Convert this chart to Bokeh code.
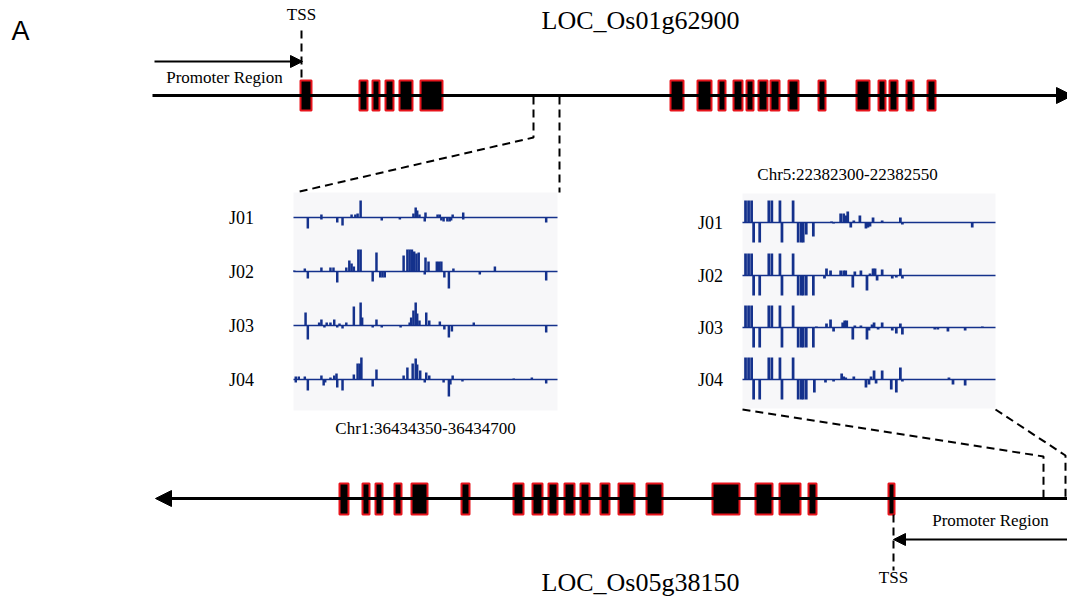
from bokeh.plotting import figure
from bokeh.models import Arrow, NormalHead
from bokeh.core.properties import value
from bokeh.embed import file_html
from bokeh.resources import INLINE

# ---------------- data ----------------
# gene structures (diagram units along the drawn gene line)
top_exon_start = [300, 359, 372, 385, 399, 420, 670, 697, 718, 733, 746, 758, 770, 788, 818, 856, 878, 889, 906, 927]
top_exon_end   = [311, 367, 379, 393, 412, 442, 683, 711, 725, 742, 753, 767, 779, 798, 825, 869, 885, 897, 913, 935]
bot_exon_start = [339, 362, 375, 394, 411, 461, 513, 532, 548, 564, 580, 600, 618, 646, 712, 755, 779, 808, 888]
bot_exon_end   = [348, 369, 382, 401, 427, 469, 523, 542, 557, 574, 589, 609, 634, 662, 739, 772, 800, 816, 894]

samples = ["J01", "J02", "J03", "J04"]

# left region Chr1:36434350-36434700 ; (offset bp, signal) plus strand up, minus strand down
L_J01_plus  = [(37,3),(77,3),(82,3),(85,4),(89,17),(159,4),(162,10),(164,7),(167,3),(175,5),(191,3),(194,3),(211,3),(225,5)]
L_J01_minus = [(19,11),(37,2),(58,5),(65,8),(117,3),(141,2),(174,4),(196,3),(199,4),(204,4),(207,4),(209,3),(225,2),(335,5)]
L_J02_plus  = [(1,1),(15,3),(37,4),(49,4),(53,4),(70,4),(74,11),(77,8),(80,5),(86,22),(89,22),(110,19),(146,16),
               (151,22),(154,22),(157,22),(160,20),(163,18),(166,19),(175,14),(179,10),(190,10),(193,10),(196,10),(212,3),(267,5)]
L_J02_minus = [(19,7),(58,11),(105,10),(115,6),(118,6),(121,6),(174,3),(200,6),(206,17),(247,3),(335,9)]
L_J03_plus  = [(16,13),(34,3),(37,6),(44,3),(49,3),(54,6),(61,2),(70,3),(80,19),(89,23),(91,8),(110,6),(154,3),(156,8),
               (159,15),(162,23),(164,12),(167,5),(176,13),(180,5),(194,4),(239,3)]
L_J03_minus = [(19,14),(41,2),(58,2),(65,3),(105,2),(117,2),(142,2),(200,4),(206,12),(210,6),(335,7)]
L_J04_plus  = [(3,3),(7,3),(15,3),(37,4),(49,2),(54,4),(57,6),(80,5),(85,16),(88,16),(90,22),(110,10),(146,4),(151,12),
               (158,16),(162,21),(164,15),(168,9),(176,7),(180,4),(211,4),(292,1),(316,2)]
L_J04_minus = [(3,3),(19,11),(40,6),(42,3),(58,8),(65,11),(105,7),(174,3),(199,3),(206,17),(208,5),(224,2),(335,4)]

# right region Chr5:22382300-22382550
R_tall_plus  = [(3,22),(6,22),(9,22),(26,22),(29,22),(37,22),(50,22)]
R_tall_minus = [(11,20),(17,20),(39,20),(55,20),(58,20),(60,20)]
R_J01_plus  = [(88,1),(97,9),(100,9),(102,7),(104,11),(110,2),(116,7),(129,5),(138,2),(156,5)]
R_J01_minus = [(63,12),(70,14),(90,1),(107,5),(122,6),(124,5),(126,4),(158,2),(227,5)]
R_J02_plus  = [(83,7),(87,5),(97,5),(100,5),(102,5),(111,4),(117,5),(126,2),(129,7),(131,7),(138,6),(156,7)]
R_J02_minus = [(63,20),(70,20),(81,3),(109,12),(123,15),(133,5),(148,3),(152,2),(158,3)]
R_J03_plus  = [(73,1),(83,4),(87,8),(99,5),(101,7),(103,7),(111,2),(117,2),(128,3),(130,5),(138,5),(156,4),(237,1)]
R_J03_minus = [(63,20),(70,20),(90,4),(109,12),(123,12),(125,3),(134,2),(148,3),(152,6),(158,7),(190,2),(193,2),(203,4),(220,3)]
R_J04_plus  = [(98,6),(100,3),(102,2),(110,3),(127,3),(130,9),(138,9),(156,12),(204,2)]
R_J04_minus = [(63,20),(71,13),(82,3),(90,2),(122,8),(125,5),(132,4),(147,10),(152,13),(158,2),(208,5),(220,6)]

left_plus  = [L_J01_plus, L_J02_plus, L_J03_plus, L_J04_plus]
left_minus = [L_J01_minus, L_J02_minus, L_J03_minus, L_J04_minus]
right_plus  = [R_tall_plus + t for t in [R_J01_plus, R_J02_plus, R_J03_plus, R_J04_plus]]
right_minus = [R_tall_minus + t for t in [R_J01_minus, R_J02_minus, R_J03_minus, R_J04_minus]]

left_region = "Chr1:36434350-36434700"
right_region = "Chr5:22382300-22382550"
left_len, right_len = 350, 250

# ---------------- figure ----------------
W, H = 1067, 600
p = figure(width=W, height=H, x_range=(0, W), y_range=(H, 0), output_backend="svg",
           toolbar_location=None, min_border=0)
p.axis.visible = False
p.grid.visible = False
p.outline_line_color = None
p.background_fill_color = "white"

SERIF = value("Liberation Serif")
BLUE = "#14318c"
RED = "#e8141c"

# ---- panels (coverage tracks) ----
def panel(x0, x1, y0, y1, length, baselines, plus, minus, label_x, binw):
    p.quad(left=[x0], right=[x1], top=[y0], bottom=[y1], fill_color="#f7f7f9", line_color=None)
    sx = (x1 - x0) / length
    for base, pl, mi in zip(baselines, plus, minus):
        p.segment(x0=[x0], x1=[x1], y0=[base], y1=[base], line_color=BLUE, line_width=1.7)
        if pl:
            xs = [x0 + b * sx for b, v in pl]
            p.quad(left=[x - binw * sx / 2 for x in xs], right=[x + binw * sx / 2 for x in xs],
                   top=[base - v for b, v in pl], bottom=[base] * len(pl),
                   fill_color=BLUE, line_color=None)
        if mi:
            xs = [x0 + b * sx for b, v in mi]
            p.quad(left=[x - binw * sx / 2 for x in xs], right=[x + binw * sx / 2 for x in xs],
                   top=[base] * len(mi), bottom=[base + v for b, v in mi],
                   fill_color=BLUE, line_color=None)
    p.text(x=[label_x] * 4, y=baselines, text=samples, text_font=SERIF, text_font_size="18px",
           text_align="center", text_baseline="middle", text_color="black")

panel(293, 557, 192, 410, left_len, [217, 271, 325, 379], left_plus, left_minus, 241, 3.3)
panel(742, 995, 193, 408, right_len, [222, 275, 327, 379], right_plus, right_minus, 710, 2.7)

# ---- gene lines ----
p.add_layout(Arrow(end=NormalHead(size=16, fill_color="black", line_color="black"),
                   x_start=152, y_start=95, x_end=1072, y_end=95, line_width=3, line_color="black"))
p.add_layout(Arrow(end=NormalHead(size=16, fill_color="black", line_color="black"),
                   x_start=1067, y_start=498, x_end=155, y_end=498, line_width=3, line_color="black"))

# promoter arrows
p.add_layout(Arrow(end=NormalHead(size=12, fill_color="black", line_color="black"),
                   x_start=154, y_start=61, x_end=302, y_end=61, line_width=2, line_color="black"))
p.add_layout(Arrow(end=NormalHead(size=12, fill_color="black", line_color="black"),
                   x_start=1067, y_start=539, x_end=893, y_end=539, line_width=2, line_color="black"))

# exons
p.quad(left=top_exon_start, right=top_exon_end, top=[80] * len(top_exon_start), bottom=[110] * len(top_exon_start),
       fill_color="black", line_color=RED, line_width=2)
p.quad(left=bot_exon_start, right=bot_exon_end, top=[483] * len(bot_exon_start), bottom=[514] * len(bot_exon_start),
       fill_color="black", line_color=RED, line_width=2)

# dashed guides
dash = dict(line_color="black", line_width=2, line_dash="8 5")
p.line(x=[301, 301], y=[30, 80], **dash)
p.line(x=[893, 893], y=[514, 570], **dash)
p.line(x=[533, 533, 295], y=[96, 137, 192], **dash)
p.line(x=[559, 559], y=[96, 192], **dash)
p.line(x=[742, 1043, 1043], y=[409, 456, 497], **dash)
p.line(x=[995, 1065, 1065], y=[409, 455, 497], **dash)

# texts
p.text(x=[640], y=[20], text=["LOC_Os01g62900"], text_font=SERIF, text_font_size="26px",
       text_align="center", text_baseline="middle", text_color="black")
p.text(x=[640], y=[582], text=["LOC_Os05g38150"], text_font=SERIF, text_font_size="26px",
       text_align="center", text_baseline="middle", text_color="black")
p.text(x=[301, 893], y=[14, 577], text=["TSS", "TSS"], text_font=SERIF, text_font_size="17px",
       text_align="center", text_baseline="middle", text_color="black")
p.text(x=[224, 990], y=[77, 520], text=["Promoter Region", "Promoter Region"], text_font=SERIF,
       text_font_size="17px", text_align="center", text_baseline="middle", text_color="black")
p.text(x=[425, 847], y=[428, 174], text=[left_region, right_region], text_font=SERIF,
       text_font_size="17px", text_align="center", text_baseline="middle", text_color="black")
p.text(x=[20], y=[30], text=["A"], text_font=value("Liberation Sans"), text_font_size="27px",
       text_align="center", text_baseline="middle", text_color="black")

open("out.html", "w").write(file_html(p, INLINE))
